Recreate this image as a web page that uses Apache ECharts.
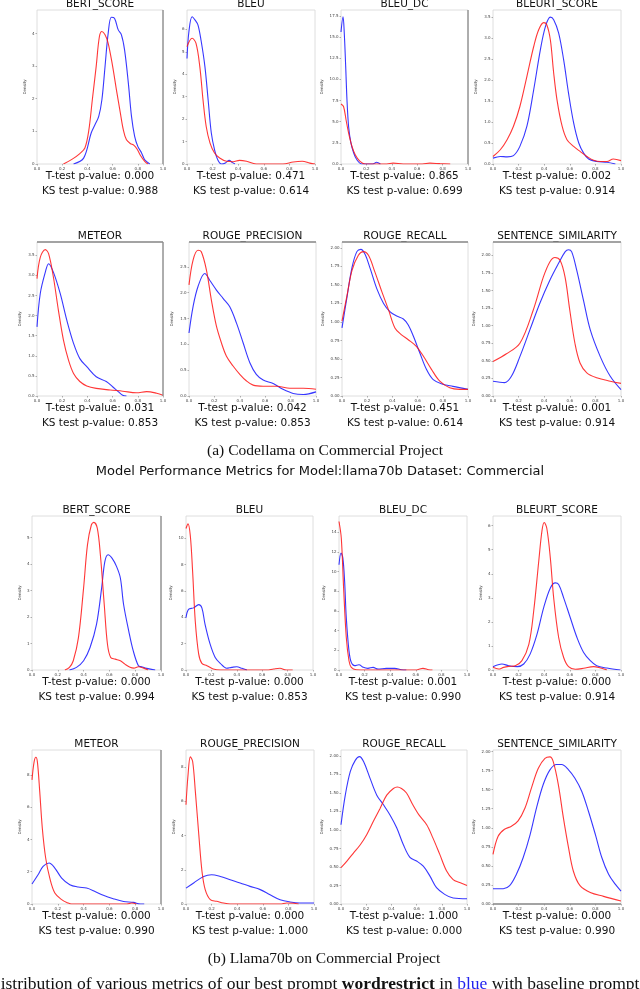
<!DOCTYPE html>
<html>
<head>
<meta charset="utf-8">
<script src="https://cdn.jsdelivr.net/npm/echarts@6/dist/echarts.min.js"></script>
<style>
  html, body { margin: 0; padding: 0; background: #fff; }
  #chart { width: 640px; height: 989px; }
</style>
</head>
<body>
<div id="chart"></div>
<script>
// metric names and test results
const metrics = ["BERT_SCORE", "BLEU", "BLEU_DC", "BLEURT_SCORE", "METEOR", "ROUGE_PRECISION", "ROUGE_RECALL", "SENTENCE_SIMILARITY"];
const codellamaTTest = ["0.000", "0.471", "0.865", "0.002", "0.031", "0.042", "0.451", "0.001"];
const codellamaKSTest = ["0.988", "0.614", "0.699", "0.914", "0.853", "0.853", "0.614", "0.914"];
const llamaTTest = ["0.000", "0.000", "0.001", "0.000", "0.000", "0.000", "1.000", "0.000"];
const llamaKSTest = ["0.994", "0.853", "0.990", "0.914", "0.990", "1.000", "0.000", "0.990"];

// axis ranges (density)
const xTicks = [0, 0.2, 0.4, 0.6, 0.8, 1.0];
const codellamaYMax = [4.72, 6.86, 18.2, 3.67, 3.83, 2.98, 2.08, 2.19];
const codellamaYStep = [1, 1, 2.5, 0.5, 0.5, 0.5, 0.25, 0.25];
const llamaYMax = [5.81, 11.7, 15.66, 6.4, 9.55, 9.0, 2.08, 2.02];
const llamaYStep = [1, 2, 2, 1, 2, 2, 0.25, 0.25];

// Codellama: blue = wordrestrict, red = baseline  ([x, density])
const cBertBlue = [[0.29,0],[0.37,0.18],[0.43,0.95],[0.46,1.2],[0.49,1.46],[0.515,1.97],[0.54,2.99],[0.565,4.01],[0.59,4.5],[0.615,4.47],[0.645,4.11],[0.67,3.96],[0.695,3.5],[0.725,2.48],[0.75,1.46],[0.775,0.85],[0.8,0.54],[0.83,0.34],[0.855,0.13],[0.895,0]];
const cBertRed = [[0.21,0],[0.28,0.15],[0.34,0.32],[0.38,0.49],[0.41,1.0],[0.44,2.0],[0.47,3.0],[0.495,3.9],[0.515,4.06],[0.54,3.96],[0.565,3.7],[0.6,3.0],[0.63,2.28],[0.66,1.6],[0.685,1.05],[0.71,0.74],[0.74,0.63],[0.77,0.57],[0.795,0.45],[0.82,0.27],[0.855,0.08],[0.88,0]];
const cBleuBlue = [[0,4.7],[0.015,5.9],[0.04,6.56],[0.065,6.4],[0.086,6.19],[0.11,5.5],[0.14,4.34],[0.165,2.86],[0.19,1.38],[0.215,0.64],[0.24,0.19],[0.27,0],[0.3,0.05],[0.33,0.16],[0.355,0.06],[0.375,0]];
const cBleuRed = [[0,5.23],[0.04,5.6],[0.07,5.38],[0.1,4.34],[0.125,2.86],[0.15,1.67],[0.18,0.93],[0.215,0.49],[0.255,0.27],[0.31,0.12],[0.36,0.1],[0.41,0.16],[0.465,0.12],[0.54,0],[0.75,0],[0.83,0.09],[0.9,0.12],[0.96,0.04],[1,0]];
const cBleuDcBlue = [[0,15.6],[0.016,17.4],[0.026,15.4],[0.037,11.5],[0.047,7.6],[0.06,4.4],[0.078,2.5],[0.1,1.3],[0.125,0.5],[0.165,0],[0.25,0],[0.28,0.2],[0.31,0]];
const cBleuDcRed = [[0,7.1],[0.02,6.8],[0.04,5.2],[0.06,3.65],[0.086,2.1],[0.112,1.1],[0.15,0.3],[0.19,0],[0.36,0],[0.41,0.1],[0.49,0],[0.64,0],[0.7,0.1],[0.78,0.04],[0.86,0]];
const cBleurtBlue = [[0,0.14],[0.057,0.18],[0.11,0.17],[0.16,0.2],[0.21,0.42],[0.265,0.9],[0.318,1.77],[0.37,2.72],[0.41,3.28],[0.448,3.5],[0.474,3.44],[0.513,3.12],[0.552,2.48],[0.59,1.69],[0.63,0.98],[0.67,0.5],[0.708,0.26],[0.747,0.12],[0.81,0.06],[0.89,0.04],[0.956,0]];
const cBleurtRed = [[0,0.18],[0.057,0.34],[0.11,0.58],[0.16,0.9],[0.21,1.37],[0.265,2.09],[0.318,2.8],[0.357,3.2],[0.396,3.37],[0.42,3.32],[0.448,2.96],[0.474,2.17],[0.5,1.53],[0.54,0.9],[0.578,0.58],[0.63,0.42],[0.68,0.3],[0.734,0.18],[0.786,0.09],[0.84,0.06],[0.89,0.06],[0.94,0.12],[1,0.08]];
const cMeteorBlue = [[0,1.72],[0.026,2.55],[0.066,3.08],[0.092,3.29],[0.13,3.08],[0.184,2.55],[0.237,1.88],[0.29,1.31],[0.34,0.93],[0.395,0.73],[0.47,0.48],[0.55,0.36],[0.6,0.23],[0.645,0.11],[0.68,0.02],[0.71,0]];
const cMeteorRed = [[0,2.92],[0.026,3.45],[0.066,3.64],[0.092,3.54],[0.13,2.96],[0.17,2.13],[0.21,1.39],[0.25,0.89],[0.29,0.56],[0.34,0.36],[0.395,0.25],[0.47,0.19],[0.58,0.15],[0.68,0.12],[0.79,0.08],[0.87,0.11],[0.95,0.07],[1,0.02]];
const cRougePBlue = [[0,1.22],[0.032,1.73],[0.071,2.12],[0.124,2.37],[0.163,2.24],[0.216,2.05],[0.268,1.89],[0.32,1.73],[0.374,1.41],[0.426,1.03],[0.48,0.64],[0.53,0.42],[0.584,0.31],[0.663,0.24],[0.74,0.13],[0.82,0.05],[0.9,0.03],[1,0.08]];
const cRougePRed = [[0,2.15],[0.032,2.63],[0.071,2.82],[0.097,2.79],[0.137,2.44],[0.176,1.86],[0.216,1.35],[0.255,1.03],[0.295,0.77],[0.347,0.58],[0.4,0.42],[0.453,0.29],[0.505,0.21],[0.584,0.19],[0.69,0.19],[0.795,0.15],[0.9,0.15],[1,0.13]];
const cRougeRBlue = [[0,0.92],[0.04,1.34],[0.08,1.74],[0.118,1.95],[0.15,1.98],[0.184,1.91],[0.224,1.72],[0.276,1.45],[0.33,1.25],[0.38,1.14],[0.434,1.08],[0.487,1.04],[0.526,0.96],[0.566,0.81],[0.618,0.58],[0.67,0.36],[0.724,0.22],[0.8,0.16],[0.88,0.13],[1,0.09]];
const cRougeRRed = [[0,1.01],[0.04,1.36],[0.08,1.7],[0.13,1.9],[0.17,1.95],[0.21,1.9],[0.26,1.68],[0.316,1.41],[0.37,1.16],[0.42,0.92],[0.47,0.83],[0.526,0.76],[0.59,0.67],[0.645,0.54],[0.71,0.36],[0.776,0.2],[0.855,0.11],[0.934,0.09],[1,0.09]];
const cSentBlue = [[0,0.21],[0.09,0.19],[0.144,0.28],[0.21,0.56],[0.288,0.94],[0.366,1.32],[0.445,1.65],[0.51,1.88],[0.563,2.05],[0.59,2.08],[0.615,2.05],[0.654,1.79],[0.707,1.36],[0.76,0.94],[0.838,0.56],[0.916,0.28],[1,0.09]];
const cSentRed = [[0,0.49],[0.105,0.6],[0.21,0.75],[0.314,1.22],[0.393,1.69],[0.445,1.91],[0.484,1.97],[0.524,1.93],[0.563,1.69],[0.6,1.22],[0.64,0.75],[0.68,0.47],[0.733,0.33],[0.81,0.26],[0.916,0.21],[1,0.18]];

// Llama70b
const lBertBlue = [[0.29,0],[0.345,0.1],[0.4,0.35],[0.45,0.85],[0.5,1.72],[0.54,3.1],[0.565,4.1],[0.59,4.35],[0.62,4.22],[0.655,3.91],[0.685,3.47],[0.71,2.47],[0.75,1.47],[0.785,0.72],[0.825,0.16],[0.85,0.12],[0.89,0.06],[0.955,0]];
const lBertRed = [[0.255,0],[0.29,0.1],[0.32,0.35],[0.36,1.22],[0.4,3.1],[0.43,4.72],[0.46,5.47],[0.48,5.57],[0.506,5.35],[0.53,4.35],[0.56,2.47],[0.585,0.97],[0.61,0.47],[0.645,0.41],[0.685,0.35],[0.72,0.22],[0.76,0.1],[0.79,0.07],[0.825,0.12],[0.865,0.07],[0.9,0]];
const lBleuBlue = [[0,3.97],[0.02,4.6],[0.06,4.72],[0.1,4.97],[0.125,4.72],[0.15,3.47],[0.19,1.96],[0.23,0.95],[0.27,0.5],[0.32,0.13],[0.36,0.2],[0.4,0.25],[0.44,0.13],[0.48,0]];
const lBleuRed = [[0,10.75],[0.016,11.1],[0.034,10.2],[0.052,7.5],[0.073,3.7],[0.1,1.2],[0.125,0.5],[0.165,0.33],[0.215,0.08],[0.27,0],[0.635,0],[0.69,0.08],[0.74,0.13],[0.79,0],[0.84,0]];
const lBleuDcBlue = [[0,10.7],[0.016,11.9],[0.03,11.4],[0.044,9.0],[0.057,5.3],[0.078,1.95],[0.096,0.77],[0.122,0.44],[0.156,0.54],[0.19,0.27],[0.226,0.17],[0.266,0.27],[0.305,0.1],[0.37,0.17],[0.435,0.17],[0.487,0.03],[0.526,0]];
const lBleuDcRed = [[0,15.1],[0.018,13.4],[0.036,8.35],[0.057,3.3],[0.078,0.94],[0.096,0.27],[0.135,0.03],[0.3,0],[0.6,0],[0.63,0.1],[0.656,0.17],[0.7,0.03],[0.73,0]];
const lBleurtBlue = [[0,0.14],[0.07,0.25],[0.122,0.18],[0.19,0.14],[0.24,0.25],[0.29,0.66],[0.344,1.49],[0.396,2.59],[0.448,3.41],[0.487,3.62],[0.513,3.55],[0.552,3.0],[0.604,2.17],[0.656,1.35],[0.708,0.73],[0.76,0.39],[0.81,0.18],[0.89,0.08],[0.995,0]];
const lBleurtRed = [[0,0.11],[0.044,0.04],[0.083,0.11],[0.122,0.15],[0.174,0.18],[0.226,0.39],[0.28,1.07],[0.318,2.45],[0.357,4.5],[0.383,5.8],[0.4,6.13],[0.42,5.9],[0.448,4.65],[0.474,3.0],[0.513,1.35],[0.552,0.52],[0.59,0.14],[0.643,0.03],[0.708,0.07],[0.786,0.14],[0.84,0.08],[0.89,0]];
const lMeteorBlue = [[0,1.24],[0.047,1.81],[0.086,2.33],[0.132,2.54],[0.177,2.23],[0.23,1.61],[0.293,1.2],[0.358,1.05],[0.423,0.99],[0.488,0.78],[0.553,0.54],[0.63,0.33],[0.71,0.16],[0.787,0.1],[0.84,0],[0.87,0]];
const lMeteorRed = [[0,7.7],[0.016,8.8],[0.03,9.1],[0.042,8.8],[0.06,6.97],[0.08,4.7],[0.106,2.85],[0.138,1.6],[0.177,0.68],[0.23,0.27],[0.28,0.06],[0.306,0],[0.735,0],[0.774,0.06],[0.81,0]];
const lRougePBlue = [[0,0.93],[0.06,1.23],[0.138,1.61],[0.2,1.71],[0.268,1.61],[0.345,1.42],[0.423,1.23],[0.5,1.03],[0.58,0.84],[0.657,0.54],[0.735,0.25],[0.813,0.12],[0.89,0.06],[1,0.06]];
const lRougePRed = [[0,5.8],[0.016,7.55],[0.034,8.6],[0.052,8.33],[0.073,6.58],[0.1,4.05],[0.125,1.9],[0.15,0.84],[0.19,0.25],[0.24,0.16],[0.293,0.06],[0.345,0],[0.735,0],[0.787,0.06],[0.84,0.04],[0.88,0]];
const lRougeRBlue = [[0,1.07],[0.034,1.47],[0.074,1.79],[0.113,1.94],[0.147,1.99],[0.18,1.92],[0.23,1.7],[0.284,1.47],[0.337,1.34],[0.39,1.2],[0.442,1.03],[0.495,0.8],[0.547,0.63],[0.6,0.58],[0.653,0.51],[0.705,0.38],[0.758,0.22],[0.823,0.13],[0.89,0.08],[1,0.07]];
const lRougeRRed = [[0,0.49],[0.047,0.58],[0.1,0.69],[0.153,0.8],[0.205,0.94],[0.258,1.12],[0.31,1.29],[0.363,1.47],[0.416,1.56],[0.447,1.58],[0.48,1.56],[0.52,1.5],[0.57,1.34],[0.62,1.2],[0.68,1.07],[0.73,0.89],[0.784,0.67],[0.837,0.45],[0.89,0.33],[0.942,0.29],[1,0.25]];
const lSentBlue = [[0,0.2],[0.08,0.2],[0.13,0.24],[0.183,0.39],[0.236,0.61],[0.29,0.91],[0.34,1.26],[0.393,1.57],[0.445,1.76],[0.497,1.83],[0.536,1.83],[0.59,1.76],[0.64,1.65],[0.693,1.48],[0.745,1.22],[0.8,0.91],[0.85,0.61],[0.903,0.39],[0.955,0.26],[1,0.17]];
const lSentRed = [[0,0.65],[0.04,0.89],[0.09,0.98],[0.144,1.02],[0.196,1.09],[0.25,1.26],[0.3,1.52],[0.354,1.78],[0.406,1.91],[0.445,1.93],[0.47,1.87],[0.51,1.57],[0.55,1.13],[0.59,0.74],[0.628,0.43],[0.68,0.24],[0.76,0.15],[0.864,0.1],[1,0.04]];

const codellamaCurves = [[cBertBlue, cBertRed], [cBleuBlue, cBleuRed], [cBleuDcBlue, cBleuDcRed], [cBleurtBlue, cBleurtRed],
    [cMeteorBlue, cMeteorRed], [cRougePBlue, cRougePRed], [cRougeRBlue, cRougeRRed], [cSentBlue, cSentRed]];
const llamaCurves = [[lBertBlue, lBertRed], [lBleuBlue, lBleuRed], [lBleuDcBlue, lBleuDcRed], [lBleurtBlue, lBleurtRed],
    [lMeteorBlue, lMeteorRed], [lRougePBlue, lRougePRed], [lRougeRBlue, lRougeRRed], [lSentBlue, lSentRed]];

// layout of the 4x4 panels
const rowTops = [10, 242, 516, 750];
const rowHeight = 154;
const rowCols = [
    [[37, 126], [187, 128], [341, 127], [493, 128]],
    [[37, 126], [189, 127], [342, 126], [493, 128]],
    [[32, 129], [186, 127], [339, 128], [493, 128]],
    [[32, 129], [186, 128], [341, 126], [493, 128]]
];
// frame edges that look darker in the picture: [row, col, side]
const darkEdges = [[0, 0, "right"], [0, 2, "right"], [1, 0, "top"], [1, 0, "right"], [1, 1, "top"], [1, 2, "top"], [1, 3, "top"],
    [2, 0, "right"], [3, 0, "right"], [3, 3, "bottom"]];

const BLUE = "rgba(20,20,255,0.85)";
const RED = "rgba(255,20,20,0.85)";
const SANS = '"DejaVu Sans"';
const SERIF = '"Liberation Serif"';

let chart = echarts.init(document.getElementById("chart"), null, { renderer: "canvas" });

function decimalsFor(step) {
    if (Number.isInteger(step)) return 0;
    return Number.isInteger(step * 10) ? 1 : 2;
}

const grids = [], xAxes = [], yAxes = [], series = [], graphics = [];

for (let p = 0; p < 16; p++) {
    const row = Math.floor(p / 4), col = p % 4;
    const m = (row % 2) * 4 + col;  // metric index
    const isLlama = row >= 2;
    const yMax = isLlama ? llamaYMax[m] : codellamaYMax[m];
    const yStep = isLlama ? llamaYStep[m] : codellamaYStep[m];
    const curves = isLlama ? llamaCurves[m] : codellamaCurves[m];
    const tTest = isLlama ? llamaTTest[m] : codellamaTTest[m];
    const ksTest = isLlama ? llamaKSTest[m] : codellamaKSTest[m];
    const [left, width] = rowCols[row][col];
    const top = rowTops[row];

    const yTicks = [];
    for (let v = 0; v <= yMax + 1e-9; v += yStep) yTicks.push(Math.round(v * 1000) / 1000);
    const dec = decimalsFor(yStep);
    const labelLen = Math.max(...yTicks.map(v => v.toFixed(dec).length));

    grids.push({
        left: left, top: top, width: width, height: rowHeight,
        show: true, borderColor: "#d6d6d6", borderWidth: 0.8, backgroundColor: "#fff"
    });
    xAxes.push({
        gridIndex: p, type: "value", min: 0, max: 1, interval: 0.2,
        axisLine: { show: false },
        axisTick: { show: true, length: 1.5, lineStyle: { color: "#666", width: 0.5 } },
        axisLabel: { fontSize: 4, color: "#444", margin: 2.5, fontFamily: SANS, formatter: v => v.toFixed(1),
            customValues: xTicks },
        splitLine: { show: false }
    });
    yAxes.push({
        gridIndex: p, type: "value", min: 0, max: yMax, interval: yStep,
        axisLine: { show: false },
        axisTick: { show: true, length: 1.5, lineStyle: { color: "#666", width: 0.5 }, customValues: yTicks },
        axisLabel: { fontSize: 4, color: "#444", margin: 2.5, fontFamily: SANS, formatter: v => v.toFixed(dec),
            customValues: yTicks },
        splitLine: { show: false },
        name: "Density", nameLocation: "middle", nameRotate: 90, nameGap: 8 + 2.3 * labelLen,
        nameTextStyle: { fontSize: 4, color: "#444", fontFamily: SANS }
    });
    series.push({
        type: "line", xAxisIndex: p, yAxisIndex: p, data: curves[0], smooth: 0.35,
        showSymbol: false, silent: true, lineStyle: { color: BLUE, width: 1.1 }, z: 2
    });
    series.push({
        type: "line", xAxisIndex: p, yAxisIndex: p, data: curves[1], smooth: 0.35,
        showSymbol: false, silent: true, lineStyle: { color: RED, width: 1.1 }, z: 3
    });

    const cx = left + width / 2;
    graphics.push({ type: "text", x: cx, y: top - 6, style: { text: metrics[m], font: "10.5px " + SANS, fill: "#111", align: "center", verticalAlign: "middle" } });
    graphics.push({ type: "text", x: cx, y: top + rowHeight + 12.5, style: { text: "T-test p-value: " + tTest, font: "10.5px " + SANS, fill: "#111", align: "center", verticalAlign: "middle" } });
    graphics.push({ type: "text", x: cx, y: top + rowHeight + 27.5, style: { text: "KS test p-value: " + ksTest, font: "10.5px " + SANS, fill: "#111", align: "center", verticalAlign: "middle" } });
}

// darker frame edges
darkEdges.forEach(([row, col, side]) => {
    const [left, width] = rowCols[row][col];
    const top = rowTops[row], bottom = top + rowHeight, right = left + width;
    const shape = side === "right" ? { x1: right, y1: top, x2: right, y2: bottom }
        : side === "top" ? { x1: left, y1: top, x2: right, y2: top }
        : { x1: left, y1: bottom, x2: right, y2: bottom };
    graphics.push({ type: "line", shape: shape, style: { stroke: "#8a8a8a", lineWidth: 1.3 }, z: 10 });
});

// captions
graphics.push({ type: "text", x: 325, y: 451, style: { text: "(a) Codellama on Commercial Project", font: "15.5px " + SERIF, fill: "#111", align: "center", verticalAlign: "middle" } });
graphics.push({ type: "text", x: 320, y: 472, style: { text: "Model Performance Metrics for Model:llama70b Dataset: Commercial", font: "13px " + SANS, fill: "#111", align: "center", verticalAlign: "middle" } });
graphics.push({ type: "text", x: 324, y: 959, style: { text: "(b) Llama70b on Commercial Project", font: "15.5px " + SERIF, fill: "#111", align: "center", verticalAlign: "middle" } });
graphics.push({
    type: "text", x: -12, y: 984,
    style: {
        text: "{n|Distribution of various metrics of our best prompt }{b|wordrestrict}{n| in }{c|blue}{n| with baseline prompt}",
        align: "left", verticalAlign: "middle",
        rich: {
            n: { fontFamily: SERIF, fontSize: 17.5, fill: "#111" },
            b: { fontFamily: SERIF, fontSize: 17.5, fontWeight: "bold", fill: "#111" },
            c: { fontFamily: SERIF, fontSize: 17.5, fill: "#2222ee" }
        }
    }
});

chart.setOption({
    animation: false,
    backgroundColor: "#fff",
    grid: grids,
    xAxis: xAxes,
    yAxis: yAxes,
    series: series,
    graphic: { elements: graphics }
});

window.addEventListener("resize", function () {
    chart.resize();
});
</script>
</body>
</html>
